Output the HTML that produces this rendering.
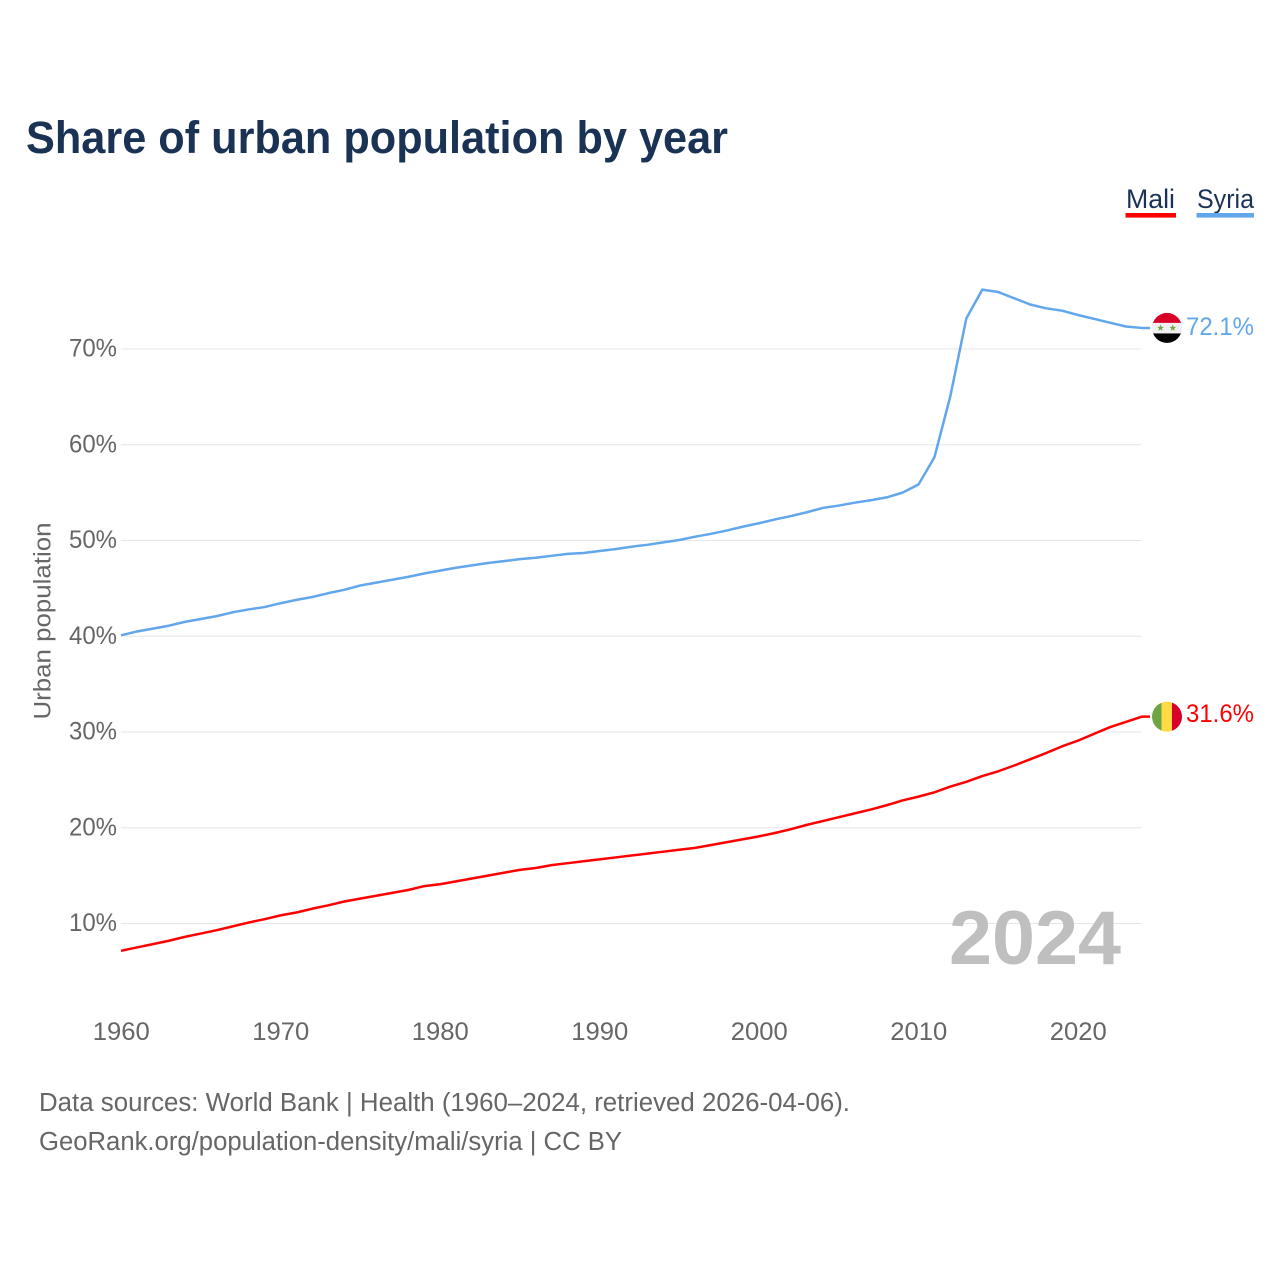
<!DOCTYPE html>
<html lang="en">
<head>
<meta charset="utf-8">
<title>Share of urban population by year</title>
<style>
  html, body { margin: 0; padding: 0; background: #ffffff; }
  body { width: 1280px; height: 1280px; overflow: hidden; }
  svg { display: block; font-family: "Liberation Sans", Arial, sans-serif; }
  .tick { fill: #666666; font-size: 25px; }
</style>
</head>
<body>
<svg id="chart" width="1280" height="1280" viewBox="0 0 1280 1280" xmlns="http://www.w3.org/2000/svg">
  <defs>
    <clipPath id="flag-clip-syria"><circle id="clip-circle-syria" cx="1167" cy="328" r="15"></circle></clipPath>
    <clipPath id="flag-clip-mali"><circle id="clip-circle-mali" cx="1167" cy="716" r="15"></circle></clipPath>
  </defs>
  <rect width="1280" height="1280" fill="#ffffff"></rect>

  <text x="26" y="153" font-size="45" font-weight="700" fill="#1a3355" textLength="702" lengthAdjust="spacingAndGlyphs">Share of urban population by year</text>

  <g>
    <g>
      <text x="1126" y="208" font-size="27" fill="#1a3355" textLength="49" lengthAdjust="spacingAndGlyphs">Mali</text>
      <rect x="1125.5" y="213" width="50.5" height="4.6" fill="#ff0000"></rect>
    </g>
    <g>
      <text x="1197" y="208" font-size="27" fill="#1a3355" textLength="57" lengthAdjust="spacingAndGlyphs">Syria</text>
      <rect x="1196.5" y="213" width="57.5" height="4.6" fill="#62a6ec"></rect>
    </g>
  </g>

  <g id="grid"></g>
  <g id="y-ticks"></g>
  <g id="x-ticks"></g>

  <text transform="translate(50.5,719.5) rotate(-90)" font-size="24.5" fill="#666666" textLength="197" lengthAdjust="spacingAndGlyphs">Urban population</text>

  <text x="949" y="964" font-size="76" font-weight="700" fill="#bfbfbf" textLength="172" lengthAdjust="spacingAndGlyphs">2024</text>

  <g id="series"></g>

  <g id="flag-syria" clip-path="url(#flag-clip-syria)">
    <rect x="1151" y="312" width="32" height="11" fill="#d80027"></rect>
    <rect x="1151" y="323" width="32" height="10.5" fill="#f0f0f0"></rect>
    <rect x="1151" y="333.5" width="32" height="11" fill="#000000"></rect>
    <polygon fill="#6da544" points="1160.5,324.6 1161.4,327 1163.9,327 1161.9,328.5 1162.6,331 1160.5,329.5 1158.4,331 1159.1,328.5 1157.1,327 1159.6,327"></polygon>
    <polygon fill="#6da544" points="1172.8,324.6 1173.7,327 1176.2,327 1174.2,328.5 1174.9,331 1172.8,329.5 1170.7,331 1171.4,328.5 1169.4,327 1171.9,327"></polygon>
  </g>
  <g id="flag-mali" clip-path="url(#flag-clip-mali)">
    <rect x="1151" y="700" width="10.5" height="32" fill="#6da544"></rect>
    <rect x="1161.5" y="700" width="10.5" height="32" fill="#ffda44"></rect>
    <rect x="1172" y="700" width="11" height="32" fill="#d80027"></rect>
  </g>

  <g id="end-labels"></g>

  <g>
    <text x="39" y="1111" font-size="25.5" fill="#666666" textLength="811" lengthAdjust="spacingAndGlyphs">Data sources: World Bank | Health (1960–2024, retrieved 2026-04-06).</text>
    <text x="39" y="1150" font-size="25.5" fill="#666666" textLength="583" lengthAdjust="spacingAndGlyphs">GeoRank.org/population-density/mali/syria | CC BY</text>
  </g>
</svg>

<script>
const startYear = 1960;
const xTickLabels = [1960, 1970, 1980, 1990, 2000, 2010, 2020];
const yTickLabels = [10, 20, 30, 40, 50, 60, 70];
const syriaValues = [
  40.1, 40.5, 40.8, 41.1, 41.5, 41.8, 42.1, 42.5, 42.8, 43.05,
  43.45, 43.8, 44.1, 44.5, 44.85, 45.3, 45.6, 45.9, 46.2, 46.55,
  46.85, 47.15, 47.4, 47.65, 47.85, 48.05, 48.2, 48.4, 48.6, 48.7,
  48.9, 49.1, 49.35, 49.55, 49.8, 50.05, 50.4, 50.7, 51.05, 51.45,
  51.8, 52.2, 52.55, 52.95, 53.4, 53.65, 53.95, 54.2, 54.5, 55.0,
  55.85, 58.7, 65.1, 73.2, 76.2, 75.95, 75.3, 74.65, 74.25, 74.0,
  73.55, 73.15, 72.75, 72.35, 72.2
];
const maliValues = [
  7.15, 7.5, 7.85, 8.2, 8.6, 8.95, 9.3, 9.7, 10.1, 10.45,
  10.85, 11.15, 11.55, 11.9, 12.3, 12.6, 12.9, 13.2, 13.5, 13.9,
  14.1, 14.4, 14.7, 15.0, 15.3, 15.6, 15.8, 16.1, 16.3, 16.5,
  16.7, 16.9, 17.1, 17.3, 17.5, 17.7, 17.9, 18.2, 18.5, 18.8,
  19.1, 19.45, 19.85, 20.3, 20.7, 21.1, 21.5, 21.9, 22.35, 22.85,
  23.25, 23.7, 24.3, 24.8, 25.4, 25.9, 26.5, 27.15, 27.8, 28.5,
  29.1, 29.8, 30.5, 31.05, 31.6
];
const syriaLabel = "72.1%";
const maliLabel = "31.6%";

const NS = "http://www.w3.org/2000/svg";
function xScale(year) { return 121 + (year - 1960) * 15.95; }
function yScale(value) { return 1019.25 - value * 9.575; }

function makeEl(tag, parentId) {
  const el = document.createElementNS(NS, tag);
  document.getElementById(parentId).appendChild(el);
  return el;
}

yTickLabels.forEach(function (v) {
  const line = makeEl("line", "grid");
  
  
  line.setAttribute("x1", 121);
  line.setAttribute("x2", 1141);
  line.setAttribute("y1", yScale(v));
  line.setAttribute("y2", yScale(v));
  line.setAttribute("stroke", "#e6e6e6");
  line.setAttribute("stroke-width", "1");

  const t = makeEl("text", "y-ticks");
  
  
  t.setAttribute("class", "tick");
  t.setAttribute("x", 117);
  t.setAttribute("y", yScale(v) + 7.5);
  t.setAttribute("text-anchor", "end");
  t.setAttribute("textLength", "48");
  t.setAttribute("lengthAdjust", "spacingAndGlyphs");
  t.textContent = v + "%";
});

xTickLabels.forEach(function (yr) {
  const t = makeEl("text", "x-ticks");
  
  
  t.setAttribute("class", "tick");
  t.setAttribute("x", xScale(yr) + 0.3);
  t.setAttribute("y", 1040);
  t.setAttribute("text-anchor", "middle");
  t.setAttribute("textLength", "57");
  t.setAttribute("lengthAdjust", "spacingAndGlyphs");
  t.textContent = yr;
});

function linePoints(values) {
  const pts = values.map(function (v, i) {
    return xScale(startYear + i).toFixed(2) + "," + yScale(v).toFixed(2);
  });
  const last = values[values.length - 1];
  pts.push("1150," + yScale(last).toFixed(2));
  return pts.join(" ");
}

const syriaLine = makeEl("polyline", "series");


syriaLine.setAttribute("points", linePoints(syriaValues));
syriaLine.setAttribute("fill", "none");
syriaLine.setAttribute("stroke", "#62a6ec");
syriaLine.setAttribute("stroke-width", "2.5");
syriaLine.setAttribute("stroke-linejoin", "round");

const maliLine = makeEl("polyline", "series");


maliLine.setAttribute("points", linePoints(maliValues));
maliLine.setAttribute("fill", "none");
maliLine.setAttribute("stroke", "#ff0000");
maliLine.setAttribute("stroke-width", "2.5");
maliLine.setAttribute("stroke-linejoin", "round");

const syriaEndY = yScale(syriaValues[syriaValues.length - 1]);
const maliEndY = yScale(maliValues[maliValues.length - 1]);

document.getElementById("flag-syria").setAttribute("transform", "translate(0," + (syriaEndY - 328) + ")");
document.getElementById("flag-mali").setAttribute("transform", "translate(0," + (maliEndY - 716) + ")");

const syriaEnd = makeEl("text", "end-labels");


syriaEnd.setAttribute("x", 1186);
syriaEnd.setAttribute("y", syriaEndY + 7);
syriaEnd.setAttribute("font-size", "25");
syriaEnd.setAttribute("fill", "#62a6ec");
syriaEnd.setAttribute("textLength", "68");
syriaEnd.setAttribute("lengthAdjust", "spacingAndGlyphs");
syriaEnd.textContent = syriaLabel;

const maliEnd = makeEl("text", "end-labels");


maliEnd.setAttribute("x", 1186);
maliEnd.setAttribute("y", maliEndY + 5.5);
maliEnd.setAttribute("font-size", "25");
maliEnd.setAttribute("fill", "#ff0000");
maliEnd.setAttribute("textLength", "68");
maliEnd.setAttribute("lengthAdjust", "spacingAndGlyphs");
maliEnd.textContent = maliLabel;
</script>
</body>
</html>
